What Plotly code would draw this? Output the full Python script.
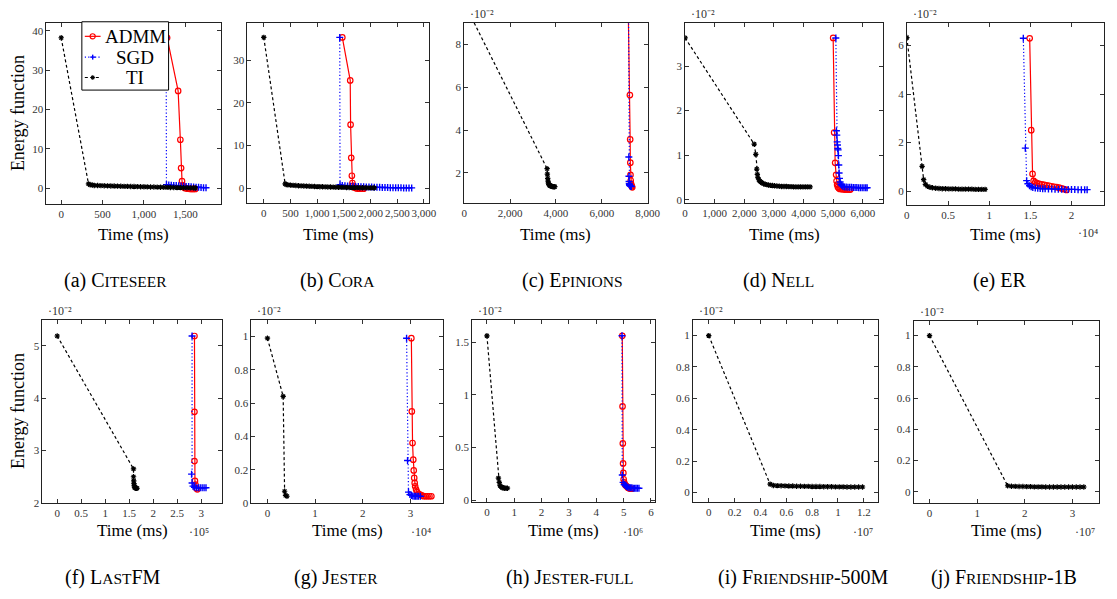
import plotly.graph_objects as go

# Energy values are given in the unit of each panel's axis multiplier
# (e.g. "·10^-2"), times in ms (or in the multiplier printed under the x axis).

# (a) Citeseer
cite_admm_t = [1280, 1413, 1440, 1449, 1460, 1470, 1485, 1500, 1520, 1540, 1560, 1580, 1600, 1620]
cite_admm_e = [38.2, 24.7, 12.3, 5.1, 1.8, 0.7, 0.2, 0.0, -0.1, -0.15, -0.2, -0.2, -0.2, -0.2]
cite_sgd_t = [1268, 1272, 1300, 1330, 1360, 1390, 1420, 1450, 1480, 1510, 1540, 1570, 1600, 1630, 1660, 1690, 1720, 1750]
cite_sgd_e = [38.2, 0.9, 0.8, 0.75, 0.7, 0.65, 0.6, 0.55, 0.5, 0.45, 0.4, 0.35, 0.3, 0.26, 0.22, 0.18, 0.14, 0.1]
cite_ti_t = [0, 330, 350, 375, 400, 440, 480, 520, 560, 600, 640, 680, 720, 760, 800, 840, 880, 920, 960,
             1000, 1040, 1080, 1120, 1160, 1200, 1240, 1280, 1320, 1360, 1400, 1440, 1480, 1520, 1560, 1600, 1620]
cite_ti_e = [38.2, 1.1, 0.85, 0.8, 0.7, 0.67, 0.64, 0.62, 0.59, 0.57, 0.54, 0.52, 0.5, 0.47, 0.45, 0.43, 0.41,
             0.39, 0.37, 0.35, 0.33, 0.31, 0.29, 0.27, 0.25, 0.23, 0.21, 0.19, 0.17, 0.16, 0.14, 0.12, 0.1, 0.09,
             0.07, 0.06]

# (b) Cora
cora_admm_t = [1471, 1619, 1626, 1638, 1650, 1660, 1675, 1695, 1720, 1750, 1780, 1810, 1840, 1870]
cora_admm_e = [35.4, 25.3, 14.9, 7.1, 2.9, 1.2, 0.5, 0.15, 0.0, -0.1, -0.15, -0.15, -0.15, -0.15]
cora_sgd_t = [1423, 1428, 1470, 1520, 1570, 1620, 1670, 1720, 1770, 1820, 1870, 1920, 1970, 2020, 2070, 2120,
              2170, 2220, 2270, 2320, 2370, 2420, 2470, 2520, 2570, 2620, 2670, 2720, 2770]
cora_sgd_e = [35.4, 0.8, 0.6, 0.55, 0.5, 0.45, 0.42, 0.38, 0.35, 0.32, 0.3, 0.27, 0.25, 0.23, 0.21, 0.19, 0.17,
              0.15, 0.13, 0.12, 0.1, 0.09, 0.08, 0.07, 0.06, 0.05, 0.05, 0.04, 0.04]
cora_ti_t = [0, 400, 420, 450, 500, 550, 600, 650, 700, 750, 800, 850, 900, 950, 1000, 1050, 1100, 1150, 1200,
             1250, 1300, 1350, 1400, 1450, 1500, 1550, 1600, 1650, 1700, 1750, 1800, 1850, 1900, 1950, 2000,
             2050, 2070]
cora_ti_e = [35.4, 1.0, 0.85, 0.75, 0.7, 0.65, 0.6, 0.56, 0.52, 0.49, 0.46, 0.43, 0.4, 0.38, 0.35, 0.33, 0.31,
             0.29, 0.27, 0.25, 0.23, 0.21, 0.19, 0.18, 0.16, 0.15, 0.13, 0.12, 0.11, 0.1, 0.09, 0.08, 0.07,
             0.06, 0.05, 0.04, 0.04]

# (c) Epinions
epi_admm_t = [7150, 7225, 7238, 7245, 7252, 7262, 7275, 7290, 7310, 7330]
epi_admm_e = [9.94, 5.64, 3.57, 2.48, 1.91, 1.65, 1.5, 1.42, 1.37, 1.33]
epi_sgd_t = [7165, 7180, 7185, 7190, 7198, 7208, 7220, 7240, 7265, 7290]
epi_sgd_e = [9.94, 2.75, 1.85, 1.6, 1.5, 1.45, 1.42, 1.4, 1.38, 1.37]
epi_ti_t = [0, 3614, 3625, 3640, 3655, 3670, 3690, 3715, 3740, 3770, 3800, 3840, 3880, 3920, 3950]
epi_ti_e = [9.94, 2.2, 1.95, 1.75, 1.62, 1.53, 1.47, 1.43, 1.41, 1.39, 1.38, 1.37, 1.36, 1.36, 1.36]

# (d) Nell
nell_admm_t = [5000, 5033, 5067, 5100, 5115, 5135, 5160, 5190, 5230, 5280, 5340, 5400, 5470, 5540, 5580]
nell_admm_e = [3.63, 1.51, 0.83, 0.56, 0.42, 0.34, 0.29, 0.26, 0.245, 0.24, 0.235, 0.23, 0.23, 0.23, 0.23]
nell_sgd_t = [5090, 5110, 5123, 5135, 5145, 5155, 5167, 5178, 5190, 5200, 5215, 5235, 5260, 5290, 5330, 5380,
              5440, 5500, 5560, 5620, 5680, 5740, 5800, 5860, 5920, 5980, 6040, 6100, 6147]
nell_sgd_e = [3.63, 1.55, 1.45, 1.3, 1.23, 1.15, 1.12, 0.99, 0.78, 0.6, 0.48, 0.4, 0.35, 0.32, 0.3, 0.29,
              0.285, 0.28, 0.28, 0.28, 0.275, 0.275, 0.275, 0.27, 0.27, 0.27, 0.27, 0.27, 0.27]
nell_ti_t = [0, 2333, 2388, 2420, 2440, 2460, 2490, 2520, 2560, 2600, 2650, 2700, 2760, 2820, 2880, 2950,
             3020, 3100, 3180, 3260, 3340, 3420, 3500, 3580, 3660, 3740, 3820, 3900, 3980, 4060, 4140, 4220]
nell_ti_e = [3.63, 1.25, 1.02, 0.69, 0.57, 0.5, 0.45, 0.42, 0.4, 0.38, 0.36, 0.35, 0.34, 0.33, 0.325, 0.32,
             0.315, 0.31, 0.305, 0.3, 0.3, 0.3, 0.295, 0.295, 0.29, 0.29, 0.29, 0.29, 0.29, 0.29, 0.29, 0.29]

# (e) ER, time in 1e4 ms
er_admm_t = [1.492, 1.511, 1.527, 1.54, 1.56, 1.58, 1.61, 1.64, 1.67, 1.7, 1.73, 1.76, 1.79, 1.82, 1.85,
             1.88, 1.91, 1.94]
er_admm_e = [6.3, 2.51, 0.71, 0.42, 0.36, 0.33, 0.3, 0.28, 0.26, 0.24, 0.22, 0.2, 0.18, 0.16, 0.14, 0.11,
             0.08, 0.05]
er_sgd_t = [1.415, 1.439, 1.455, 1.47, 1.49, 1.51, 1.53, 1.56, 1.59, 1.62, 1.65, 1.68, 1.72, 1.76, 1.8, 1.84,
            1.88, 1.92, 1.96, 2.0, 2.04, 2.08, 2.12, 2.16, 2.19]
er_sgd_e = [6.3, 1.77, 0.43, 0.3, 0.22, 0.18, 0.15, 0.13, 0.12, 0.11, 0.1, 0.1, 0.09, 0.09, 0.08, 0.08, 0.08,
            0.07, 0.07, 0.07, 0.07, 0.06, 0.06, 0.06, 0.06]
er_ti_t = [0, 0.185, 0.204, 0.225, 0.25, 0.28, 0.31, 0.35, 0.39, 0.43, 0.47, 0.51, 0.55, 0.59, 0.63, 0.67,
           0.71, 0.75, 0.79, 0.83, 0.87, 0.91, 0.95]
er_ti_e = [6.33, 1.02, 0.47, 0.28, 0.2, 0.16, 0.14, 0.12, 0.11, 0.1, 0.1, 0.09, 0.09, 0.09, 0.08, 0.08, 0.08,
           0.08, 0.08, 0.07, 0.07, 0.07, 0.07]

# (f) LastFM, time in 1e5 ms
fm_admm_t = [2.86, 2.86, 2.86, 2.87, 2.88, 2.9, 2.92]
fm_admm_e = [5.19, 3.74, 2.8, 2.42, 2.35, 2.28, 2.26]
fm_sgd_t = [2.81, 2.8, 2.81, 2.83, 2.86, 2.9, 2.94, 2.98, 3.02, 3.06, 3.1]
fm_sgd_e = [5.19, 2.55, 2.38, 2.32, 2.3, 2.29, 2.29, 2.29, 2.29, 2.29, 2.29]
fm_ti_t = [0, 1.59, 1.59, 1.595, 1.6, 1.605, 1.61, 1.62, 1.635, 1.65, 1.665]
fm_ti_e = [5.19, 2.65, 2.5, 2.42, 2.37, 2.33, 2.3, 2.29, 2.28, 2.28, 2.28]

# (g) Jester, time in 1e4 ms
jes_admm_t = [3.02, 3.03, 3.045, 3.06, 3.07, 3.08, 3.09, 3.1, 3.12, 3.14, 3.17, 3.2, 3.24, 3.28, 3.32, 3.36,
              3.4, 3.44]
jes_admm_e = [0.99, 0.55, 0.36, 0.26, 0.195, 0.15, 0.12, 0.1, 0.08, 0.065, 0.055, 0.05, 0.045, 0.04, 0.04,
              0.04, 0.04, 0.04]
jes_sgd_t = [2.92, 2.94, 2.96, 2.99, 3.02, 3.05, 3.08, 3.11, 3.14, 3.17, 3.21]
jes_sgd_e = [0.99, 0.255, 0.065, 0.05, 0.045, 0.042, 0.04, 0.04, 0.04, 0.04, 0.04]
jes_ti_t = [0, 0.33, 0.36, 0.38, 0.41]
jes_ti_e = [0.99, 0.64, 0.07, 0.045, 0.04]

# (h) Jester-full, time in 1e6 ms
jf_admm_t = [4.95, 4.96, 4.97, 4.98, 4.99, 5.0, 5.02, 5.05, 5.08, 5.12, 5.16, 5.2, 5.25, 5.3]
jf_admm_e = [1.56, 0.89, 0.54, 0.35, 0.26, 0.2, 0.17, 0.15, 0.14, 0.13, 0.12, 0.115, 0.11, 0.11]
jf_sgd_t = [4.94, 4.95, 4.98, 5.02, 5.06, 5.1, 5.15, 5.2, 5.25, 5.3, 5.35, 5.4, 5.45, 5.5, 5.56]
jf_sgd_e = [1.56, 0.24, 0.17, 0.15, 0.14, 0.13, 0.125, 0.12, 0.12, 0.12, 0.115, 0.115, 0.115, 0.115, 0.115]
jf_ti_t = [0, 0.42, 0.45, 0.48, 0.52, 0.56, 0.6, 0.65, 0.7, 0.75]
jf_ti_e = [1.56, 0.21, 0.17, 0.14, 0.13, 0.12, 0.12, 0.115, 0.115, 0.115]

# (i) Friendship-500M, time in 1e7 ms
fr5_ti_t = [0, 0.475, 0.5, 0.53, 0.56, 0.59, 0.62, 0.65, 0.68, 0.71, 0.74, 0.77, 0.8, 0.83, 0.86, 0.89,
            0.92, 0.95, 0.98, 1.01, 1.04, 1.07, 1.1, 1.13, 1.16, 1.19]
fr5_ti_e = [1.0, 0.053, 0.045, 0.044, 0.043, 0.042, 0.041, 0.041, 0.04, 0.04, 0.039, 0.039, 0.038, 0.038,
            0.038, 0.037, 0.037, 0.037, 0.036, 0.036, 0.036, 0.035, 0.035, 0.035, 0.035, 0.035]

# (j) Friendship-1B, time in 1e7 ms
fr1_ti_t = [0, 1.64, 1.72, 1.8, 1.88, 1.96, 2.04, 2.12, 2.2, 2.28, 2.36, 2.44, 2.52, 2.6, 2.68, 2.76, 2.84,
            2.92, 3.0, 3.08, 3.16, 3.24]
fr1_ti_e = [1.0, 0.038, 0.035, 0.034, 0.033, 0.033, 0.032, 0.032, 0.031, 0.031, 0.031, 0.03, 0.03, 0.03,
            0.03, 0.03, 0.03, 0.03, 0.03, 0.03, 0.03, 0.03]

SC = "<span style='font-size:15.5px'>{}</span>"  # small-caps imitation
captions = [
    "(a) C" + SC.format("ITESEER"),
    "(b) C" + SC.format("ORA"),
    "(c) E" + SC.format("PINIONS"),
    "(d) N" + SC.format("ELL"),
    "(e) ER",
    "(f) L" + SC.format("AST") + "FM",
    "(g) J" + SC.format("ESTER"),
    "(h) J" + SC.format("ESTER-FULL"),
    "(i) F" + SC.format("RIENDSHIP") + "-500M",
    "(j) F" + SC.format("RIENDSHIP") + "-1B",
]
methods = ["ADMM", "SGD", "TI"]

W, H = 1117, 599
FONT = "'Liberation Serif', 'Times New Roman', Times, serif"
COLORS = {"ADMM": "red", "SGD": "blue", "TI": "black"}
DASH = {"ADMM": "solid", "SGD": "1.2px,2.2px", "TI": "3px,2.5px"}

STYLE = {
    "ADMM": dict(line=dict(color="red", width=1.2),
                 marker=dict(symbol="circle-open", size=5.5, color="red",
                             line=dict(color="red", width=1.2))),
    "SGD": dict(line=dict(color="blue", width=1.2, dash=DASH["SGD"]),
                marker=dict(symbol="cross-thin-open", size=5, color="blue",
                            line=dict(color="blue", width=1.4))),
    "TI": dict(line=dict(color="black", width=1.2, dash=DASH["TI"]),
               marker=dict(symbol="asterisk-open", size=4.5, color="black",
                           line=dict(color="black", width=1.2))),
}

# panel geometry in pixels: box left/right/top/bottom, axis ranges, tick values,
# caption centre
panels = [
    dict(box=(44, 221, 23, 206), xr=(-179, 1929), yr=(-4.0, 42.0), cap=114,
         xt=[0, 500, 1000, 1500], yt=[0, 10, 20, 30, 40], thou=True,
         series=[("ADMM", cite_admm_t, cite_admm_e), ("SGD", cite_sgd_t, cite_sgd_e), ("TI", cite_ti_t, cite_ti_e)]),
    dict(box=(248, 432, 23, 205), xr=(-306, 3091), yr=(-3.49, 38.84), cap=339,
         xt=[0, 500, 1000, 1500, 2000, 2500, 3000], yt=[0, 10, 20, 30], thou=True,
         series=[("ADMM", cora_admm_t, cora_admm_e), ("SGD", cora_sgd_t, cora_sgd_e), ("TI", cora_ti_t, cora_ti_e)]),
    dict(box=(468, 654, 23, 205), xr=(0, 8000), yr=(0.6, 9.02), cap=578,
         xt=[0, 2000, 4000, 6000, 8000], yt=[2, 4, 6, 8], thou=True, yexp="⁻²",
         series=[("ADMM", epi_admm_t, epi_admm_e), ("SGD", epi_sgd_t, epi_sgd_e), ("TI", epi_ti_t, epi_ti_e)]),
    dict(box=(692, 893, 23, 205), xr=(0, 6690), yr=(-0.07, 3.97), cap=787,
         xt=[0, 1000, 2000, 3000, 4000, 5000, 6000], yt=[0, 1, 2, 3], thou=True, yexp="⁻²",
         series=[("ADMM", nell_admm_t, nell_admm_e), ("SGD", nell_sgd_t, nell_sgd_e), ("TI", nell_ti_t, nell_ti_e)]),
    dict(box=(917, 1117, 23, 207), xr=(0, 2.395), yr=(-0.57, 6.94), cap=1011,
         xt=[0, 0.5, 1, 1.5, 2], yt=[0, 2, 4, 6], thou=False, yexp="⁻²", xexp=("⁴", 1101, 235),
         series=[("ADMM", er_admm_t, er_admm_e), ("SGD", er_sgd_t, er_sgd_e), ("TI", er_ti_t, er_ti_e)]),
    dict(box=(40, 222, 323, 508), xr=(-0.308, 3.43), yr=(2.0, 5.5), cap=112,
         xt=[0, 0.5, 1, 1.5, 2, 2.5, 3], yt=[2, 3, 4, 5], thou=False, yexp="⁻²", xexp=("⁵", 199, 537),
         series=[("ADMM", fm_admm_t, fm_admm_e), ("SGD", fm_sgd_t, fm_sgd_e), ("TI", fm_ti_t, fm_ti_e)]),
    dict(box=(252, 446, 323, 508), xr=(-0.337, 3.676), yr=(0.0, 1.101), cap=338,
         xt=[0, 1, 2, 3], yt=[0, 0.2, 0.4, 0.6, 0.8, 1], thou=False, yexp="⁻²", xexp=("⁴", 424, 537),
         series=[("ADMM", jes_admm_t, jes_admm_e), ("SGD", jes_sgd_t, jes_sgd_e), ("TI", jes_ti_t, jes_ti_e)]),
    dict(box=(476, 661, 323, 507), xr=(-0.54, 6.13), yr=(-0.015, 1.712), cap=575,
         xt=[0, 1, 2, 3, 4, 5, 6], yt=[0, 0.5, 1, 1.5], thou=False, yexp="⁻²", xexp=("⁶", 639, 537),
         series=[("ADMM", jf_admm_t, jf_admm_e), ("SGD", jf_sgd_t, jf_sgd_e), ("TI", jf_ti_t, jf_ti_e)]),
    dict(box=(700, 888, 323, 507), xr=(-0.122, 1.312), yr=(-0.06, 1.101), cap=812,
         xt=[0, 0.2, 0.4, 0.6, 0.8, 1, 1.2], yt=[0, 0.2, 0.4, 0.6, 0.8, 1], thou=False, yexp="⁻²",
         xexp=("⁷", 873, 537),
         series=[("TI", fr5_ti_t, fr5_ti_e)]),
    dict(box=(924, 1112, 324, 508), xr=(-0.331, 3.56), yr=(-0.072, 1.095), cap=1016,
         xt=[0, 1, 2, 3], yt=[0, 0.2, 0.4, 0.6, 0.8, 1], thou=False, yexp="⁻²", xexp=("⁷", 1098, 537),
         series=[("TI", fr1_ti_t, fr1_ti_e)]),
]


def fmt(v, thou):
    return f"{v:,.0f}" if thou else f"{v:g}"


def px(x, y):
    return x / W, 1 - y / H


fig = go.Figure()
annotations = []
shapes = []
layout = {}

for i, p in enumerate(panels):
    n = i + 1
    sfx = "" if n == 1 else str(n)
    x0, x1, y0, y1 = p["box"]
    axis_common = dict(
        showline=True, linecolor="#222", linewidth=1, mirror="allticks",
        ticks="inside", ticklen=4, tickwidth=1, tickcolor="#333",
        showgrid=False, zeroline=False, tickmode="array", tickangle=0,
        tickfont=dict(family=FONT, size=11, color="#333"),
    )
    layout["xaxis" + sfx] = dict(
        axis_common, domain=[x0 / W, min(x1 / W, 1.0)], range=list(p["xr"]),
        anchor="y" + sfx, tickvals=p["xt"], ticktext=[fmt(v, p["thou"]) for v in p["xt"]],
    )
    layout["yaxis" + sfx] = dict(
        axis_common, domain=[1 - y1 / H, 1 - y0 / H], range=list(p["yr"]),
        anchor="x" + sfx, tickvals=p["yt"], ticktext=[fmt(v, False) for v in p["yt"]],
    )
    for name, t, e in p["series"]:
        fig.add_trace(go.Scatter(
            x=t, y=e, mode="lines+markers", name=name, showlegend=False,
            xaxis="x" + sfx, yaxis="y" + sfx, hoverinfo="skip", **STYLE[name],
        ))

    cx = (x0 + x1) / 2
    row_y = 237 if y0 < 300 else 536
    ax, ay = px(cx, row_y)
    annotations.append(dict(text="Time (ms)", x=ax, y=ay, xref="paper", yref="paper",
                            xanchor="center", yanchor="middle", showarrow=False,
                            font=dict(family=FONT, size=17, color="black")))
    cap_y = 283 if y0 < 300 else 583
    ax, ay = px(p["cap"], cap_y)
    annotations.append(dict(text=captions[i], x=ax, y=ay, xref="paper", yref="paper",
                            xanchor="center", yanchor="middle", showarrow=False,
                            font=dict(family=FONT, size=20, color="black")))
    if "yexp" in p:
        ax, ay = px(x0 + 4, y0 - 9)
        annotations.append(dict(text="·10" + p["yexp"], x=ax, y=ay,
                                xref="paper", yref="paper", xanchor="left", yanchor="middle",
                                showarrow=False, font=dict(family=FONT, size=12, color="#333")))
    if "xexp" in p:
        ex, ex_x, ex_y = p["xexp"]
        ax, ay = px(ex_x, ex_y)
        annotations.append(dict(text="·10" + ex, x=ax, y=ay,
                                xref="paper", yref="paper", xanchor="center", yanchor="middle",
                                showarrow=False, font=dict(family=FONT, size=12, color="#333")))

for yc in (114.5, 415.5):
    ax, ay = px(16, yc)
    annotations.append(dict(text="Energy function", x=ax, y=ay, xref="paper", yref="paper",
                            xanchor="center", yanchor="middle", textangle=-90, showarrow=False,
                            font=dict(family=FONT, size=18, color="black")))


# legend box inside panel (a): frame, sample line + marker, centred label
def seg(xa, ya, xb, yb, color, dash="solid", width=1.2):
    pa, pb = px(xa, ya), px(xb, yb)
    return dict(type="line", xref="paper", yref="paper", x0=pa[0], y0=pa[1], x1=pb[0], y1=pb[1],
                line=dict(color=color, width=width, dash=dash), layer="above")


bx0, by0 = px(80, 22)
bx1, by1 = px(168, 91)
shapes.append(dict(type="rect", xref="paper", yref="paper", x0=bx0, y0=by1, x1=bx1, y1=by0,
                   line=dict(color="black", width=1), fillcolor="white", layer="above"))
for name, ry in zip(methods, (36.7, 57.7, 78.3)):
    c = COLORS[name]
    shapes.append(seg(83, ry, 99, ry, c, DASH[name]))
    mx = 91
    if name == "ADMM":
        ca, cb = px(mx - 2.6, ry - 2.6), px(mx + 2.6, ry + 2.6)
        shapes.append(dict(type="circle", xref="paper", yref="paper", x0=ca[0], y0=cb[1],
                           x1=cb[0], y1=ca[1], line=dict(color=c, width=1.2),
                           fillcolor="rgba(0,0,0,0)", layer="above"))
    elif name == "SGD":
        shapes.append(seg(mx - 2.5, ry, mx + 2.5, ry, c, width=1.4))
        shapes.append(seg(mx, ry - 2.5, mx, ry + 2.5, c, width=1.4))
    else:
        for dx, dy in ((2.2, 0), (0, 2.2), (1.6, 1.6), (1.6, -1.6)):
            shapes.append(seg(mx - dx, ry - dy, mx + dx, ry + dy, c, width=1.1))
    ax, ay = px(134, ry)
    annotations.append(dict(text=name, x=ax, y=ay, xref="paper", yref="paper",
                            xanchor="center", yanchor="middle", showarrow=False,
                            font=dict(family=FONT, size=19, color="black")))

fig.update_layout(
    width=W, height=H, margin=dict(l=0, r=0, t=0, b=0),
    paper_bgcolor="white", plot_bgcolor="white",
    font=dict(family=FONT), showlegend=False,
    annotations=annotations, shapes=shapes,
    **layout,
)

fig.write_html("out.html")
